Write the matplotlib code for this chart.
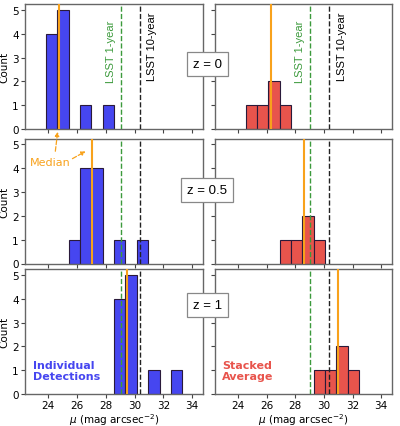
import matplotlib.pyplot as plt
from matplotlib.patches import FancyArrowPatch

# histogram bins (left edges) and counts
bin_width = 0.79
indiv_lefts = [
    [23.84, 24.63, 26.21, 27.79],
    [25.42, 26.21, 27.00, 28.58, 30.16],
    [28.58, 29.37, 30.95, 32.53],
]
indiv_counts = [
    [4, 5, 1, 1],
    [1, 4, 4, 1, 1],
    [4, 5, 1, 1],
]
stack_lefts = [
    [24.55, 25.34, 26.13, 26.92],
    [26.92, 27.71, 28.50, 29.29],
    [29.29, 30.08, 30.87, 31.66],
]
stack_counts = [
    [1, 1, 2, 1],
    [1, 1, 2, 1],
    [1, 1, 2, 1],
]
indiv_median = [24.74, 27.05, 29.49]
stack_median = [26.28, 28.62, 31.0]
lsst_1yr = 29.05
lsst_10yr = 30.38
redshifts = ["z = 0", "z = 0.5", "z = 1"]

blue = "#4646f0"
red = "#e8544c"
orange = "#f8a21c"
green = "#3c9a3c"

fig = plt.figure(figsize=(4.0, 4.27), dpi=100)
H = 427.0
row_tops = [5, 139.5, 270]
row_h = 125
axes = []
for i in range(3):
    b = 1 - (row_tops[i] + row_h) / H
    axl = fig.add_axes([25 / 400, b, 178 / 400, row_h / H])
    axr = fig.add_axes([215 / 400, b, 177 / 400, row_h / H])
    axes.append((axl, axr))

for i, (axl, axr) in enumerate(axes):
    for ax, lefts, counts, med, col in [
        (axl, indiv_lefts[i], indiv_counts[i], indiv_median[i], blue),
        (axr, stack_lefts[i], stack_counts[i], stack_median[i], red),
    ]:
        ax.bar(lefts, counts, width=bin_width, align="edge",
               color=col, edgecolor="#2a1a3a", linewidth=0.8, zorder=2)
        ax.axvline(lsst_1yr, color=green, ls="--", lw=1.0, zorder=3)
        ax.axvline(lsst_10yr, color="#222222", ls="--", lw=1.0, zorder=3)
        ax.axvline(med, color=orange, lw=1.5, zorder=4)
        ax.set_xlim(22.4, 34.75)
        ax.set_ylim(0, 5.25)
        ax.set_xticks([24, 26, 28, 30, 32, 34])
        ax.set_yticks([0, 1, 2, 3, 4, 5])
        ax.tick_params(labelsize=7.5, length=3, width=0.8, color="#444444", pad=1.5)
        for s in ax.spines.values():
            s.set_color("#666666")
            s.set_linewidth(1.0)
        if i == 0:
            ax.text(lsst_1yr - 0.7, 3.3, "LSST 1-year", rotation=90, color=green,
                    ha="center", va="center", fontsize=8, family="Liberation Sans")
            ax.text(lsst_10yr + 0.85, 3.5, "LSST 10-year", rotation=90, color="black",
                    ha="center", va="center", fontsize=8, family="Liberation Sans")
        if i < 2:
            ax.tick_params(labelbottom=False)
        else:
            ax.set_xlabel(r"$\mu$ (mag arcsec$^{-2}$)", fontsize=7.5, labelpad=1)
    axl.set_ylabel("Count", fontsize=7.5)
    axl.yaxis.set_label_coords(-0.085, 0.5)
    axr.tick_params(labelleft=False)

# redshift labels between the columns
z_y = [1 - 65 / H, 1 - 191 / H, 1 - 306 / H]
for zy, zl in zip(z_y, redshifts):
    fig.text(0.518, zy, zl, ha="center", va="center", fontsize=9.5,
             family="Liberation Sans",
             bbox=dict(boxstyle="square,pad=0.45", fc="white", ec="#888888", lw=0.9))

axes[2][0].text(0.045, 0.1, "Individual\nDetections", transform=axes[2][0].transAxes,
                color=blue, fontsize=8, fontweight="bold", ha="left", va="bottom",
                linespacing=1.2)
axes[2][1].text(0.04, 0.1, "Stacked\nAverage", transform=axes[2][1].transAxes,
                color=red, fontsize=8, fontweight="bold", ha="left", va="bottom",
                linespacing=1.2)

# median annotation
fig.text(50 / 400, 1 - 163 / H, "Median", color=orange, fontsize=8,
         ha="center", va="center")
for start, end in [((55, 155), (58, 130)), ((70, 161), (88, 151))]:
    fig.add_artist(FancyArrowPatch(
        (start[0] / 400, 1 - start[1] / H), (end[0] / 400, 1 - end[1] / H),
        transform=fig.transFigure, arrowstyle="-|>", mutation_scale=6,
        color=orange, lw=0.9, ls="--"))

fig.savefig("out.png", dpi=100)
